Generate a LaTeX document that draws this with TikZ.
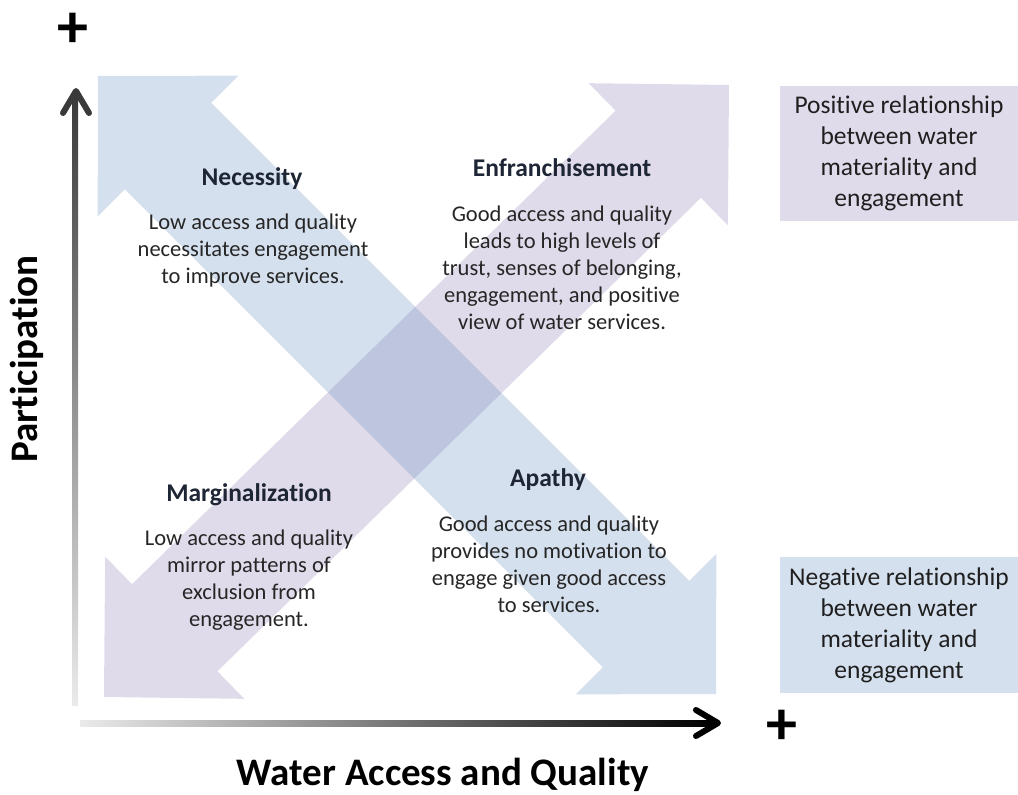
\documentclass[tikz,border=0pt]{standalone}
\usepackage{fontspec}
\setmainfont{Carlito}[Ligatures={NoCommon}]
\usetikzlibrary{calc}
\definecolor{blueA}{HTML}{D5E0EE}
\definecolor{purpA}{HTML}{E0DBEA}
\definecolor{overA}{HTML}{BEC6DF}
\definecolor{headc}{HTML}{1E2636}
\definecolor{bodyc}{HTML}{262626}
\definecolor{axdark}{HTML}{3A3A3A}
\newcommand{\arrowpts}[3]{%
  \path ($(#1)!99pt!(#2)$) coordinate (#3h1) ($(#2)!99pt!(#1)$) coordinate (#3h2);
  \path ($(#3h1)!99.5pt!90:(#2)$) coordinate (#3a1)
        ($(#3h1)!61pt!90:(#2)$) coordinate (#3a2)
        ($(#3h2)!61pt!-90:(#1)$) coordinate (#3a3)
        ($(#3h2)!99.5pt!-90:(#1)$) coordinate (#3a4)
        ($(#3h2)!99.5pt!90:(#1)$) coordinate (#3a5)
        ($(#3h2)!61pt!90:(#1)$) coordinate (#3a6)
        ($(#3h1)!61pt!-90:(#2)$) coordinate (#3a7)
        ($(#3h1)!99.5pt!-90:(#2)$) coordinate (#3a8);}
\newcommand{\arrowshape}[3]{(#1) -- (#3a1) -- (#3a2) -- (#3a3) -- (#3a4) -- (#2) -- (#3a5) -- (#3a6) -- (#3a7) -- (#3a8) -- cycle}
\begin{document}
\begin{tikzpicture}[x=1pt,y=-1pt,
  head/.style={font=\fontsize{25.5}{30}\selectfont\bfseries, text=headc, inner sep=0pt},
  body/.style={font=\fontsize{22.5}{27}\selectfont, text=bodyc, align=center, inner sep=0pt},
  legend/.style={font=\fontsize{25.5}{31}\selectfont, text=black!88, align=center, inner sep=0pt, minimum width=238pt},
  axlabel/.style={font=\fontsize{39}{44}\selectfont\bfseries, text=black, inner sep=0pt},
  plussign/.style={font=\fontsize{62}{62}\selectfont\bfseries, text=black, inner sep=0pt},
  chevron/.style={line width=6pt, line cap=round, line join=round}]
\useasboundingbox (0,0) rectangle (1018,795);
% big double arrows
\coordinate (bTL) at (98,76);
\coordinate (bBR) at (716,694);
\coordinate (pBL) at (104,697);
\coordinate (pTR) at (729,85);
\arrowpts{bTL}{bBR}{blu}
\arrowpts{pBL}{pTR}{pur}
\fill[purpA] \arrowshape{pBL}{pTR}{pur};
\fill[blueA] \arrowshape{bTL}{bBR}{blu};
\begin{scope}
  \clip \arrowshape{bTL}{bBR}{blu};
  \fill[overA] \arrowshape{pBL}{pTR}{pur};
\end{scope}
% axes
\coordinate (yBot) at (75,705);
\coordinate (yTip) at (76,91);
\coordinate (xLeft) at (80,723);
\coordinate (xTip) at (718,723);
\shade[bottom color=white!92!black, top color=axdark] ($(yBot)+(-3,0)$) rectangle ($(yTip)+(2,6)$);
\draw[chevron, axdark] ($(yTip)+(-13,22)$) -- (yTip) -- ($(yTip)+(13,22)$);
\shade[left color=white!92!black, right color=black] ($(xLeft)+(0,-3)$) rectangle ($(xTip)+(-6,3)$);
\draw[chevron, black] ($(xTip)+(-22,-13)$) -- (xTip) -- ($(xTip)+(-22,13)$);
\node[plussign] (plusY) at (73,30) {+};
\node[plussign] (plusX) at (782,727) {+};
\node[axlabel] (xlab) at (443,775) {Water Access and Quality};
\node[axlabel, rotate=90] (ylab) at (27,359) {Participation};
% quadrant texts
\node[head] (necH) at (252,179) {Necessity};
\node[body] (necB) at (253,250) {Low access and quality\\necessitates engagement\\to improve services.};
\node[head] (enfH) at (562,168) {Enfranchisement};
\node[body] (enfB) at (562,267.5) {Good access and quality\\leads to high levels of\\trust, senses of belonging,\\engagement, and positive\\view of water services.};
\node[head] (marH) at (249,495) {Marginalization};
\node[body] (marB) at (249,580.5) {Low access and quality\\mirror patterns of\\exclusion from\\engagement.};
\node[head] (apaH) at (548,480) {Apathy};
\node[body] (apaB) at (549,564.5) {Good access and quality\\provides no motivation to\\engage given good access\\to services.};
% legend
\node[legend, fill=purpA, minimum height=135pt] (posL) at (899,153.5) {Positive relationship\\between water\\materiality and\\engagement};
\node[legend, fill=blueA, minimum height=136pt] (negL) at (899,625) {Negative relationship\\between water\\materiality and\\engagement};
\end{tikzpicture}
\end{document}
